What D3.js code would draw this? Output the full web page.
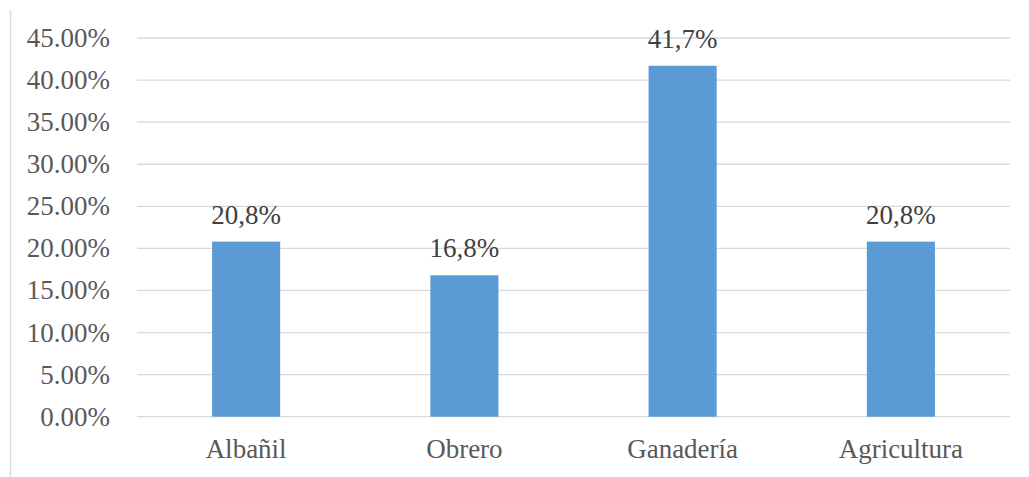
<!DOCTYPE html>
<html><head><meta charset="utf-8">
<script src="https://cdn.jsdelivr.net/npm/d3@7"></script>
<style>body{margin:0;background:#fff}svg{display:block}</style>
</head><body>
<script>
const categories = ["Albañil", "Obrero", "Ganadería", "Agricultura"];
const values = [20.8, 16.8, 41.7, 20.8];
const valueLabels = ["20,8%", "16,8%", "41,7%", "20,8%"];
const yTicks = [0, 5, 10, 15, 20, 25, 30, 35, 40, 45];

const W = 1029, H = 477;
const svg = d3.select("body").append("svg").attr("width", W).attr("height", H);
const font = "'Liberation Serif','Times New Roman',serif";
const fs = 27;

// left border
svg.append("line").attr("x1", 10.5).attr("x2", 10.5).attr("y1", 10).attr("y2", H)
  .attr("stroke", "#d9d9d9").attr("stroke-width", 1.5);

const x = d3.scaleBand().domain(categories).range([137, 1010]).padding(0);
const y = d3.scaleLinear().domain([0, 45]).range([416.7, 38]);

const g = svg.append("g");
g.selectAll("line.grid").data(yTicks).join("line").attr("class", "grid")
  .attr("x1", 137).attr("x2", 1010)
  .attr("y1", d => y(d)).attr("y2", d => y(d))
  .attr("stroke", "#d9d9d9").attr("stroke-width", 1.3);

g.selectAll("text.yt").data(yTicks).join("text").attr("class", "yt")
  .attr("x", 110).attr("y", d => y(d) + 9)
  .attr("text-anchor", "end").attr("font-family", font).attr("font-size", fs)
  .attr("fill", "#595959").text(d => d.toFixed(2) + "%");

const bw = x.bandwidth() * 0.312;
g.selectAll("rect.bar").data(values).join("rect").attr("class", "bar")
  .attr("x", (d, i) => x(categories[i]) + x.bandwidth() / 2 - bw / 2)
  .attr("width", bw)
  .attr("y", d => y(d)).attr("height", d => y(0) - y(d))
  .attr("fill", "#5b9bd5");

g.selectAll("text.vl").data(values).join("text").attr("class", "vl")
  .attr("x", (d, i) => x(categories[i]) + x.bandwidth() / 2)
  .attr("y", d => y(d) - 18)
  .attr("text-anchor", "middle").attr("font-family", font).attr("font-size", fs)
  .attr("fill", "#404040").text((d, i) => valueLabels[i]);

g.selectAll("text.cat").data(categories).join("text").attr("class", "cat")
  .attr("x", d => x(d) + x.bandwidth() / 2).attr("y", 458)
  .attr("text-anchor", "middle").attr("font-family", font).attr("font-size", fs)
  .attr("fill", "#595959").text(d => d);
</script>
</body></html>
